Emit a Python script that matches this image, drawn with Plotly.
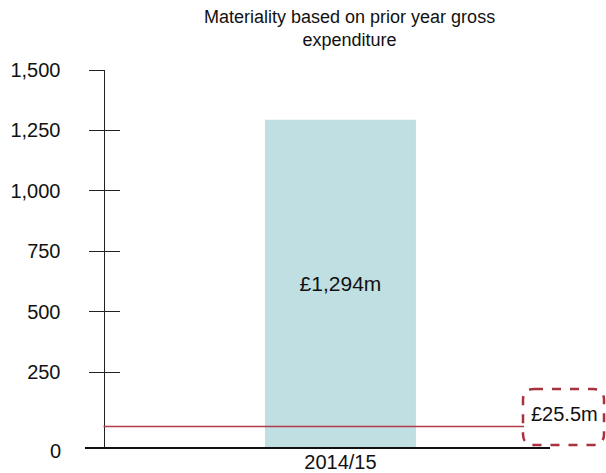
import plotly.graph_objects as go

# ---- data ----
categories = ["2014/15"]
gross_expenditure = [1294]          # £m
bar_labels = ["£1,294m"]
materiality = 25.5                  # £m
materiality_label = "£25.5m"
tick_values = [0, 250, 500, 750, 1000, 1250, 1500]
tick_labels = ["0", "250", "500", "750", "1,000", "1,250", "1,500"]
title_text = "Materiality based on prior year gross<br>expenditure"

# ---- layout geometry (pixels) ----
W, H = 606, 473
L, R, T, B = 85, 56, 70, 26
PW, PH = W - L - R, H - T - B
Y_MIN, Y_MAX = -59, 1500
YAX_PX = 103.5


def px(x):
    return (x - L) / PW


def py(y):
    return (H - B - y) / PH


FONT = "Liberation Sans, Arial, sans-serif"
BAR_COLOR = "#bfdfe3"
RED = "#b23c48"
BOX_RED = "#a8323e"

fig = go.Figure()
fig.add_trace(go.Bar(
    x=categories,
    y=[v - Y_MIN for v in gross_expenditure],
    base=[Y_MIN] * len(categories),
    width=1.0,
    marker=dict(color=BAR_COLOR, line=dict(width=0)),
    text=bar_labels,
    textposition="inside",
    insidetextanchor="middle",
    textfont=dict(size=21, color="#111111", family=FONT),
    hoverinfo="skip",
))

ticked = [v for v in tick_values if v != 0]
ticked_text = [t for v, t in zip(tick_values, tick_labels) if v != 0]

fig.update_layout(
    width=W, height=H,
    margin=dict(l=L, r=R, t=T, b=B, autoexpand=False),
    plot_bgcolor="white", paper_bgcolor="white",
    showlegend=False,
    font=dict(family=FONT, color="#111111"),
    xaxis=dict(
        type="category", range=[-1.692, 1.388], automargin=False,
        showline=True, linecolor="#111111", linewidth=2,
        ticks="", showgrid=False, zeroline=False,
        tickfont=dict(size=20, family=FONT, color="#111111"),
        ticklabelstandoff=-4,
    ),
    yaxis=dict(
        range=[Y_MIN, Y_MAX], anchor="free", position=px(YAX_PX), automargin=False,
        showline=True, linecolor="#222222", linewidth=1,
        tickmode="array", tickvals=ticked, ticktext=ticked_text,
        ticks="outside", ticklen=15, tickcolor="#222222", tickwidth=1,
        showgrid=False, zeroline=False,
        tickfont=dict(size=20, family=FONT, color="#111111"),
        ticklabelstandoff=24,
    ),
    yaxis2=dict(
        range=[Y_MIN, Y_MAX], overlaying="y", anchor="free", position=px(YAX_PX),
        matches="y", showline=False, showticklabels=False, automargin=False,
        tickmode="array", tickvals=ticked,
        ticks="inside", ticklen=15, tickcolor="#222222", tickwidth=1,
        showgrid=False, zeroline=False,
    ),
)

# dummy trace to activate yaxis2
fig.add_trace(go.Scatter(x=categories, y=[None], yaxis="y2", hoverinfo="skip",
                         mode="markers", showlegend=False))

# materiality line
fig.add_shape(type="line", xref="paper", yref="y",
              x0=px(YAX_PX), x1=px(524), y0=materiality, y1=materiality,
              line=dict(color=RED, width=1.6), layer="above")

# rounded dashed box around materiality label
x0b, x1b, y0b, y1b, r = 523, 604, 389, 445, 11
path = (
    f"M {px(x0b + r)},{py(y0b)} L {px(x1b - r)},{py(y0b)} "
    f"Q {px(x1b)},{py(y0b)} {px(x1b)},{py(y0b + r)} "
    f"L {px(x1b)},{py(y1b - r)} "
    f"Q {px(x1b)},{py(y1b)} {px(x1b - r)},{py(y1b)} "
    f"L {px(x0b + r)},{py(y1b)} "
    f"Q {px(x0b)},{py(y1b)} {px(x0b)},{py(y1b - r)} "
    f"L {px(x0b)},{py(y0b + r)} "
    f"Q {px(x0b)},{py(y0b)} {px(x0b + r)},{py(y0b)} Z"
)
fig.add_shape(type="path", xref="paper", yref="paper", path=path,
              line=dict(color=BOX_RED, width=2.5, dash="dash"), layer="above")

fig.add_annotation(xref="paper", yref="paper", x=px(564), y=py(414),
                   text=materiality_label, showarrow=False,
                   font=dict(size=20, family=FONT, color="#111111"),
                   xanchor="center", yanchor="middle")

# "0" label (drawn slightly below the zero position, as in the reference)
fig.add_annotation(xref="paper", yref="paper", x=px(63), y=py(451),
                   text=tick_labels[0], showarrow=False,
                   font=dict(size=20, family=FONT, color="#111111"),
                   xanchor="right", yanchor="middle")

# title
fig.add_annotation(xref="paper", yref="paper", x=px(349), y=py(5),
                   text=title_text, showarrow=False,
                   font=dict(size=18, family=FONT, color="#111111"),
                   xanchor="center", yanchor="top", align="center")

fig.write_html(
    "out.html",
    config={"displayModeBar": False},
    post_script="document.body.style.margin='0';document.body.style.overflow='hidden';",
)
